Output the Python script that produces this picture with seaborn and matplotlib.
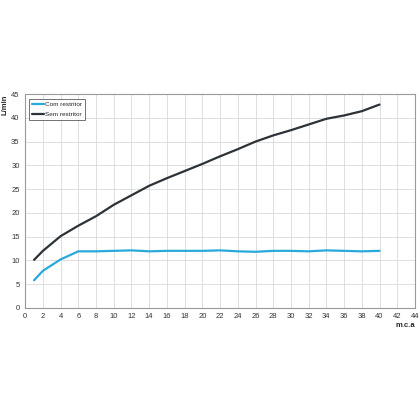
import matplotlib
matplotlib.use("Agg")
import matplotlib.pyplot as plt
import seaborn as sns
import pandas as pd

pressure = [1, 2, 4, 6, 8, 10, 12, 14, 16, 18, 20, 22, 24, 26, 28, 30, 32, 34, 36, 38, 40]
com_restritor = [5.8, 7.8, 10.2, 11.9, 11.9, 12.0, 12.1, 11.9, 12.0, 12.0, 12.0,
                 12.1, 11.9, 11.8, 12.0, 12.0, 11.9, 12.1, 12.0, 11.9, 12.0]
sem_restritor = [10.1, 12.0, 15.1, 17.3, 19.3, 21.7, 23.7, 25.7, 27.3, 28.8, 30.3,
                 31.9, 33.4, 35.0, 36.3, 37.4, 38.6, 39.8, 40.5, 41.4, 42.8]

df = pd.DataFrame({
    "m.c.a": pressure * 2,
    "L/min": com_restritor + sem_restritor,
    "serie": ["Com restritor"] * len(pressure) + ["Sem restritor"] * len(pressure),
})

sns.set_style("white")
plt.rcParams['font.family'] = ['Liberation Sans', 'DejaVu Sans']

fig = plt.figure(figsize=(4.2, 4.2), dpi=100)
ax = fig.add_axes([0.06, 0.267, 0.928, 0.509])

sns.lineplot(data=df, x="m.c.a", y="L/min", hue="serie",
             palette={"Com restritor": "#2aa9dc", "Sem restritor": "#2c3338"},
             linewidth=1.6, ax=ax)

ax.set_xlim(0, 44)
ax.set_ylim(0, 45)
ax.set_xticks(range(0, 45, 2))
ax.set_yticks(range(0, 46, 5))
ax.grid(True, color="#d9d9d9", linewidth=0.6)
ax.tick_params(labelsize=5.5, colors="#333333", length=2, pad=2)
for s in ax.spines.values():
    s.set_color("#9a9a9a")
    s.set_linewidth(0.8)

ax.set_xlabel("")
ax.set_ylabel("")
fig.text(0.965, 0.225, "m.c.a", fontsize=5.5, fontweight="bold", ha="center", va="center")
fig.text(0.013, 0.75, "L/min", fontsize=5.5, fontweight="bold", rotation=90, ha="center", va="center")

leg = ax.legend(loc="upper left", fontsize=4.6, frameon=True, fancybox=False,
                borderpad=0.45, handlelength=1.9, handletextpad=0.1, labelspacing=0.7,
                borderaxespad=0, bbox_to_anchor=(0.01, 0.978))
leg.get_frame().set_edgecolor("#333333")
leg.get_frame().set_linewidth(0.6)

fig.savefig("out.png", dpi=100)
